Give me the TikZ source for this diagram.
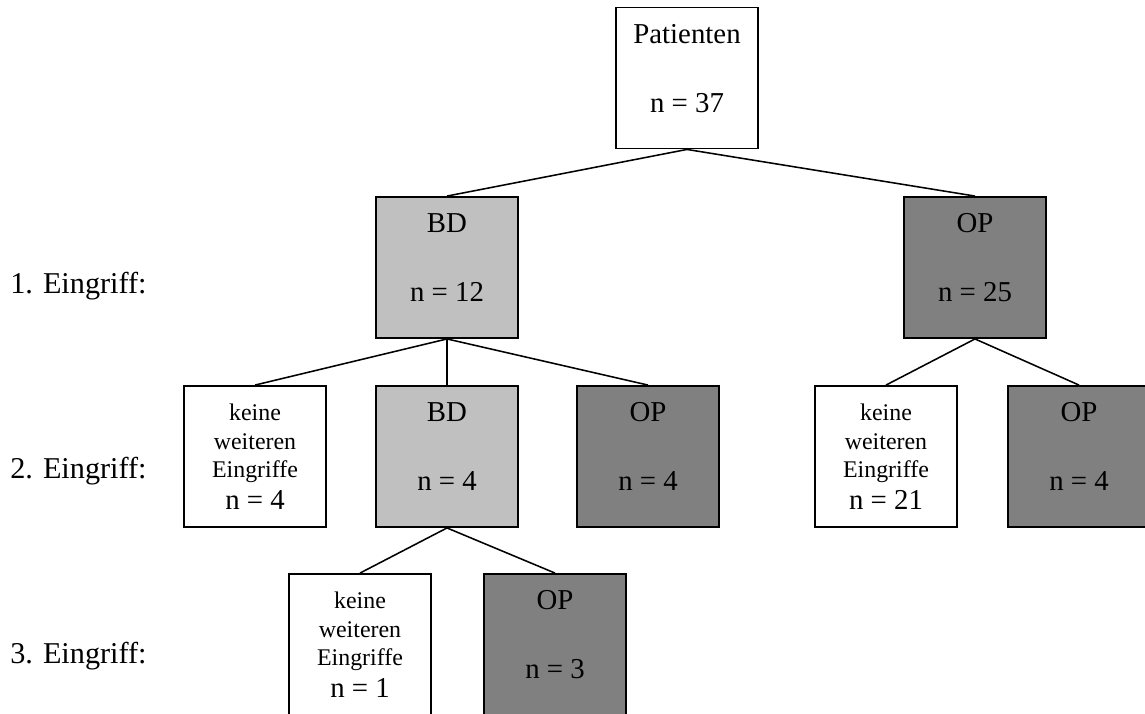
\documentclass[tikz,border=0pt]{standalone}
\usepackage{fontspec}
\setmainfont{Liberation Serif}
\usepackage{xcolor}
\definecolor{bdgray}{RGB}{192,192,192}
\definecolor{opgray}{RGB}{128,128,128}
\newcommand{\gross}{\fontsize{20.5}{24.6}\selectfont}
\newcommand{\klein}{\fontsize{17}{20.4}\selectfont}
\newcommand{\feld}[2]{#1\\[24.5pt]#2\rule[-0.5cm]{0pt}{0pt}}

\begin{document}
\begin{tikzpicture}[x=0.025cm, y=-0.025cm,
  box/.style={draw, line width=1.3pt, minimum width=3.55cm, minimum height=3.525cm,
    inner sep=0pt, align=center, font=\gross},
  bd/.style={box, fill=bdgray},
  op/.style={box, fill=opgray},
  leer/.style={box, fill=white, font=\klein},
  ebene/.style={anchor=base west, inner sep=0pt, font=\fontsize{21.5}{25}\selectfont},
  ast/.style={line width=1.1pt}]

\useasboundingbox (0,0) rectangle (1145,713);
\clip (0,0) rectangle (1145,713);

% Draw root
\node[box] (pat) at (687,78) {\feld{Patienten}{n = 37}};

% Draw 1. Eingriff
\node[bd] (bd1) at (447,267.5) {\feld{BD}{n = 12}};
\node[op] (op1) at (975,267.5) {\feld{OP}{n = 25}};

% Draw 2. Eingriff
\node[leer] (kw2a) at (255,456.5) {keine\\weiteren\\Eingriffe\\[2pt]{\gross n = 4}};
\node[bd] (bd2) at (447,456.5) {\feld{BD}{n = 4}};
\node[op] (op2a) at (648,456.5) {\feld{OP}{n = 4}};
\node[leer] (kw2b) at (886,456.5) {keine\\weiteren\\Eingriffe\\[2pt]{\gross n = 21}};
\node[op] (op2b) at (1079,456.5) {\feld{OP}{n = 4}};

% Draw 3. Eingriff
\node[leer] (kw3) at (360,644.5) {keine\\weiteren\\Eingriffe\\[2pt]{\gross n = 1}};
\node[op] (op3) at (555,644.5) {\feld{OP}{n = 3}};

% Row labels
\node[ebene] (e1) at (10,293) {1. Eingriff:};
\node[ebene] (e2) at (10,478) {2. Eingriff:};
\node[ebene] (e3) at (10,663) {3. Eingriff:};

% Connectors
\draw[ast] (pat.south) -- (bd1.north);
\draw[ast] (pat.south) -- (op1.north);
\draw[ast] (bd1.south) -- (kw2a.north);
\draw[ast] (bd1.south) -- (bd2.north);
\draw[ast] (bd1.south) -- (op2a.north);
\draw[ast] (op1.south) -- (kw2b.north);
\draw[ast] (op1.south) -- (op2b.north);
\draw[ast] (bd2.south) -- (kw3.north);
\draw[ast] (bd2.south) -- (op3.north);
\end{tikzpicture}
\end{document}
